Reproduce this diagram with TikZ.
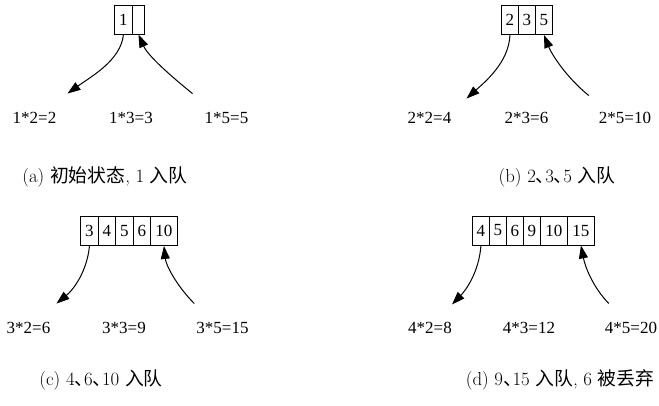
\documentclass[tikz,border=0pt]{standalone}
\usepackage{fontspec}
\newfontfamily\serif{Liberation Serif}
\newfontfamily\cjk{Noto Sans CJK SC}
\newcommand\mydun{\makebox[0.5em][l]{\cjk 、}}
\usetikzlibrary{arrows.meta}
\begin{document}
\begin{tikzpicture}[x=1pt,y=-1pt,
  cell/.style={draw, line width=0.9pt, minimum height=29pt, inner sep=0pt,
    font=\serif\fontsize{17}{17}\selectfont, anchor=west},
  lab/.style={font=\serif\fontsize{17}{17}\selectfont, inner sep=0pt, anchor=base},
  captxt/.style={font=\fontsize{18.8}{18.8}\selectfont, inner sep=0pt, anchor=base},
  arr/.style={line width=1pt, -{Triangle[length=13pt,width=9pt]}}]
\useasboundingbox (0,0) rectangle (659,405);
% ---- (a)
\node[cell, minimum width=18pt] (a1) at (114,19.5) {1};
\node[cell, minimum width=12pt] (a2) at (132,19.5) {};
\node[lab] (la1) at (34.5,123) {1*2=2};
\node[lab] (la2) at (131,123) {1*3=3};
\node[lab] (la3) at (226.5,123) {1*5=5};
\draw[arr] (a1.south) .. controls (121,60) and (92,76) .. ([shift={(11,-18)}]la1.north east);
\draw[arr] ([shift={(-12,-18)}]la3.north west) .. controls (172,77) and (148,56) .. (a2.south);
\node[captxt] (ca) at (105,182) {(a) {\cjk 初始状态}, 1 {\cjk 入队}};
% ---- (b)
\node[cell, minimum width=17pt] (b1) at (501,20) {2};
\node[cell, minimum width=17pt] (b2) at (518,20) {3};
\node[cell, minimum width=17pt] (b3) at (535,20) {5};
\node[lab] (lb1) at (429.5,123) {2*2=4};
\node[lab] (lb2) at (526.5,123) {2*3=6};
\node[lab] (lb3) at (625,123) {2*5=10};
\draw[arr] (b1.south) .. controls (509,62) and (485,82) .. ([shift={(15,-13)}]lb1.north east);
\draw[arr] ([shift={(-10,-16)}]lb3.north west) .. controls (567,78) and (552,55) .. (b3.south);
\node[captxt] (cb) at (557,182) {(b) 2\mydun3\mydun5 {\cjk 入队}};
% ---- (c)
\node[cell, minimum width=18pt] (c1) at (80,231) {3};
\node[cell, minimum width=17pt] (c2) at (98,231) {4};
\node[cell, minimum width=18pt] (c3) at (115,231) {5};
\node[cell, minimum width=17pt] (c4) at (133,231) {6};
\node[cell, minimum width=27pt] (c5) at (150,231) {10};
\node[lab] (lc1) at (28.5,333) {3*2=6};
\node[lab] (lc2) at (124,333) {3*3=9};
\node[lab] (lc3) at (222.5,333) {3*5=15};
\draw[arr] (c1.south) .. controls (87,272) and (73,290) .. ([shift={(6,-18)}]lc1.north east);
\draw[arr] ([shift={(-2,-18)}]lc3.north west) .. controls (176,285) and (166,265) .. (c5.south);
\node[captxt] (cc) at (101,385) {(c) 4\mydun6\mydun10 {\cjk 入队}};
% ---- (d)
\node[cell, minimum width=17pt] (d1) at (472,230.5) {4};
\node[cell, minimum width=17pt] (d2) at (489,230.5) {5};
\node[cell, minimum width=17pt] (d3) at (506,230.5) {6};
\node[cell, minimum width=17pt] (d4) at (523,230.5) {9};
\node[cell, minimum width=27pt] (d5) at (540,230.5) {10};
\node[cell, minimum width=27pt] (d6) at (567,230.5) {15};
\node[lab] (ld1) at (430,333) {4*2=8};
\node[lab] (ld2) at (529,333) {4*3=12};
\node[lab] (ld3) at (631,333) {4*5=20};
\draw[arr] (d1.south) .. controls (479,272) and (466,290) .. ([shift={(0,-17)}]ld1.north east);
\draw[arr] ([shift={(4,-18)}]ld3.north west) .. controls (592,286) and (585,266) .. (d6.south);
\node[captxt] (cd) at (560,385) {(d) 9\mydun15 {\cjk 入队}, 6 {\cjk 被丢弃}};
\end{tikzpicture}
\end{document}
